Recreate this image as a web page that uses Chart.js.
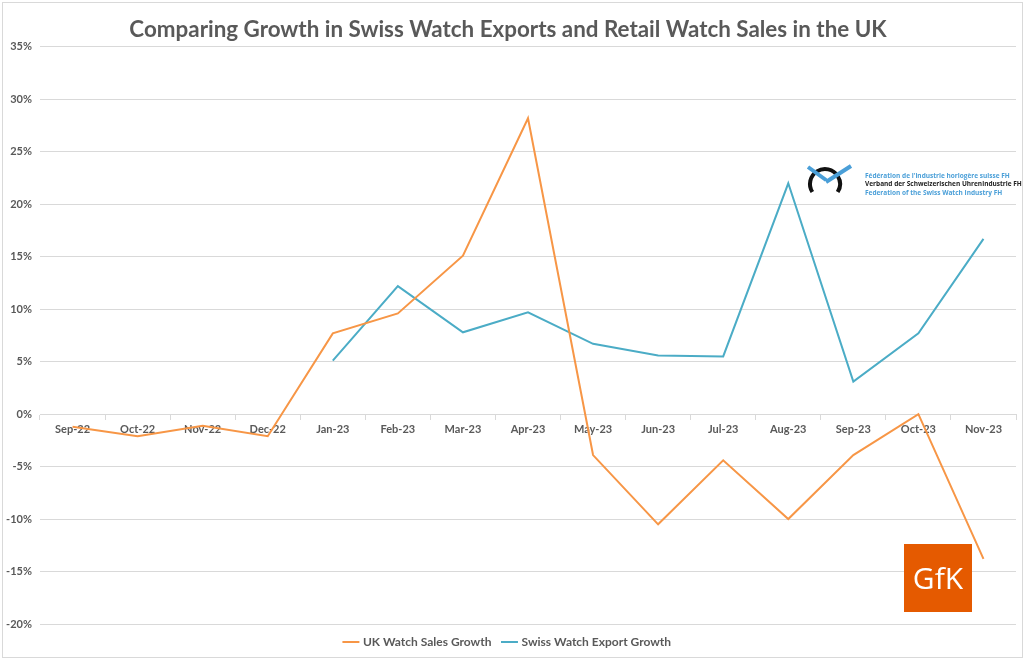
<!DOCTYPE html>
<html>
<head>
<meta charset="utf-8">
<script src="https://cdn.jsdelivr.net/npm/chart.js@4/dist/chart.umd.min.js"></script>
<style>
    html, body { margin: 0; padding: 0; background: #fff; }
    #wrap { position: relative; width: 1024px; height: 660px; }
    #frame { position: absolute; left: 2px; top: 2px; width: 1019px; height: 654px; border: 1px solid #d9d9d9; pointer-events: none; }
</style>
</head>
<body>
<div id="wrap">
    <canvas id="growthChart" width="1024" height="660"></canvas>
    <div id="frame"></div>
</div>
<script>
    var months = ['Sep-22', 'Oct-22', 'Nov-22', 'Dec-22', 'Jan-23', 'Feb-23', 'Mar-23', 'Apr-23',
        'May-23', 'Jun-23', 'Jul-23', 'Aug-23', 'Sep-23', 'Oct-23', 'Nov-23'];
    var ukSalesGrowth = [-1.2, -2.1, -1.1, -2.1, 7.7, 9.6, 15.1, 28.2, -3.9, -10.5, -4.4, -10.0, -3.9, 0.0, -13.8];
    var swissExportGrowth = [null, null, null, null, 5.1, 12.2, 7.8, 9.7, 6.7, 5.6, 5.5, 22.0, 3.1, 7.7, 16.7];

    var textColor = '#595959';
    var gridColor = '#d9d9d9';

    // the two logos are painted on the canvas after the datasets
    var logoPlugin = {
        id: 'logos',
        afterDraw: function (chart) {
            var ctx = chart.ctx;
            ctx.save();

            // FH logo
            ctx.lineCap = 'butt';
            ctx.strokeStyle = '#111';
            ctx.lineWidth = 4;
            ctx.beginPath();
            ctx.arc(825, 184, 15, Math.PI * 0.82, Math.PI * 2.18, false);
            ctx.stroke();
            ctx.strokeStyle = '#4a9fd8';
            ctx.lineWidth = 4;
            ctx.beginPath();
            ctx.moveTo(808, 167);
            ctx.lineTo(826, 180);
            ctx.moveTo(826, 182);
            ctx.lineTo(851, 166);
            ctx.stroke();

            ctx.font = 'bold 6.5px "Open Sans", sans-serif';
            ctx.textAlign = 'left';
            ctx.textBaseline = 'middle';
            ctx.fillStyle = '#4a9fd8';
            ctx.fillText('Fédération de l\'industrie horlogère suisse FH', 865, 176);
            ctx.fillStyle = '#222';
            ctx.fillText('Verband der Schweizerischen Uhrenindustrie FH', 865, 184);
            ctx.fillStyle = '#4a9fd8';
            ctx.fillText('Federation of the Swiss Watch Industry FH', 865, 193);

            // GfK logo
            ctx.fillStyle = '#e55a00';
            ctx.fillRect(904, 544, 68, 68);
            ctx.fillStyle = '#fff';
            ctx.font = '30px "Open Sans", sans-serif';
            ctx.textAlign = 'center';
            ctx.fillText('GfK', 938, 580);
            ctx.restore();
        }
    };

    new Chart(document.getElementById('growthChart'), {
        type: 'line',
        data: {
            labels: months,
            datasets: [{
                label: 'UK Watch Sales Growth',
                data: ukSalesGrowth,
                borderColor: '#f79646',
                backgroundColor: '#f79646',
                borderWidth: 2,
                pointRadius: 0,
                tension: 0
            }, {
                label: 'Swiss Watch Export Growth',
                data: swissExportGrowth,
                borderColor: '#4bacc6',
                backgroundColor: '#4bacc6',
                borderWidth: 2,
                pointRadius: 0,
                tension: 0
            }]
        },
        options: {
            responsive: false,
            animation: false,
            layout: {
                padding: { left: 0, right: 8, top: 0, bottom: 2 }
            },
            plugins: {
                title: {
                    display: true,
                    text: 'Comparing Growth in Swiss Watch Exports and Retail Watch Sales in the UK',
                    color: textColor,
                    font: { family: 'Lato', size: 22.4, weight: 'bold' },
                    padding: { top: 16, bottom: 4 }
                },
                legend: {
                    position: 'bottom',
                    labels: {
                        usePointStyle: true,
                        pointStyle: 'line',
                        boxWidth: 15,
                        color: textColor,
                        font: { family: 'Lato', size: 12, weight: 'bold' },
                        padding: 12
                    }
                },
                tooltip: { enabled: false }
            },
            scales: {
                x: {
                    position: { y: 0 },
                    offset: true,
                    grid: {
                        display: true,
                        drawOnChartArea: false,
                        offset: true,
                        tickLength: 5,
                        color: gridColor
                    },
                    border: { color: gridColor },
                    ticks: {
                        color: textColor,
                        font: { family: 'Lato', size: 11, weight: 'bold' },
                        maxRotation: 0,
                        padding: 4
                    }
                },
                y: {
                    min: -20,
                    max: 35,
                    afterFit: function (scale) { scale.width = 40; },
                    grid: { color: gridColor, drawTicks: false },
                    border: { display: false },
                    ticks: {
                        stepSize: 5,
                        color: textColor,
                        font: { family: 'Lato', size: 11, weight: 'bold' },
                        padding: 8,
                        callback: function (value) { return value + '%'; }
                    }
                }
            }
        },
        plugins: [logoPlugin]
    });
</script>
</body>
</html>
